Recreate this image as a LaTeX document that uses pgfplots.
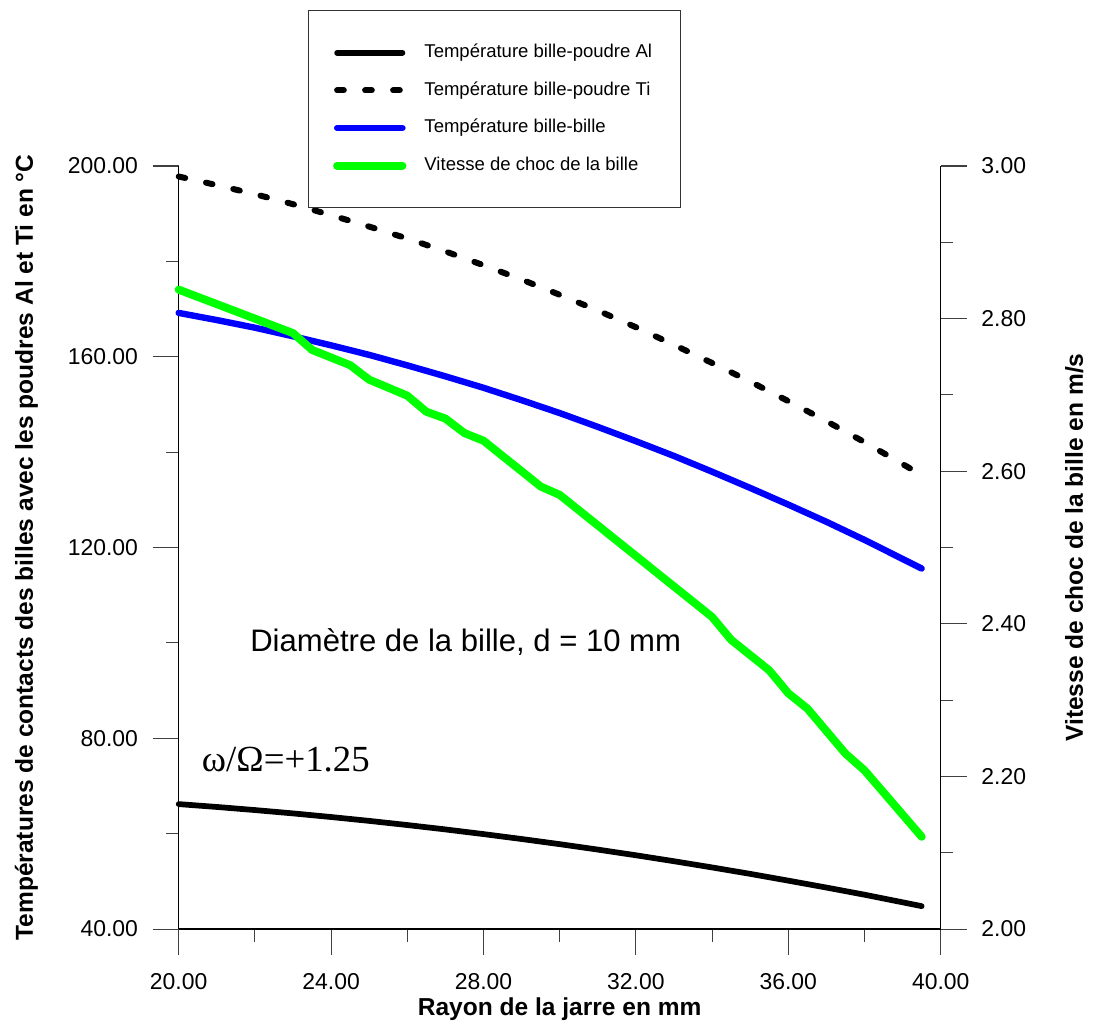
\documentclass[border=0pt]{standalone}
\usepackage{pgfplots}
\pgfplotsset{compat=1.18}
\usepackage{fontspec}
\setmainfont{Liberation Sans}
\newfontfamily\timesfont{Liberation Serif}
\definecolor{pblue}{RGB}{0,0,255}
\definecolor{pgreen}{RGB}{0,255,0}

\pgfplotstableread{
x y
20 66.20
21 65.60
22 64.95
23 64.25
24 63.49
25 62.68
26 61.81
27 60.89
28 59.91
29 58.88
30 57.80
31 56.66
32 55.47
33 54.22
34 52.92
35 51.57
36 50.15
37 48.70
38 47.20
39 45.61
39.5 44.80
}\alpowder

\pgfplotstableread{
x y
20 197.8
21 196.0
22 194.1
23 192.0
24 189.7
25 187.3
26 184.8
27 182.1
28 179.2
29 176.2
30 173.0
31 169.7
32 166.2
33 162.5
34 158.7
35 154.8
36 150.7
37 146.5
38 142.1
39 137.5
39.5 135.2
}\tipowder

\pgfplotstableread{
x y
20 169.2
21 167.7
22 166.1
23 164.3
24 162.4
25 160.4
26 158.2
27 155.9
28 153.5
29 150.9
30 148.2
31 145.3
32 142.3
33 139.2
34 135.9
35 132.5
36 129.0
37 125.4
38 121.6
39 117.6
39.5 115.6
}\billebille

\pgfplotstableread{
x y
20 2.838
23 2.781
23.5 2.759
24.5 2.739
25 2.720
26 2.699
26.5 2.678
27 2.669
27.5 2.650
28 2.640
29.5 2.580
30 2.569
34 2.409
34.5 2.379
35.5 2.339
36 2.309
36.5 2.289
37.5 2.230
38 2.208
39.5 2.121
}\vitesse

\begin{document}
\begin{tikzpicture}
\pgfplotsset{
  common/.style={
    scale only axis, width=571.5pt, height=572.25pt,
    xmin=20, xmax=40, clip=false,
    tick align=outside,
    major tick length=19.5pt, minor tick length=9.5pt,
    axis line style={line width=0.9pt, black},
    tick style={line width=0.8pt, black!75},
    tick label style={font=\fontsize{17.2}{20}\selectfont},
    label style={font=\bfseries\fontsize{18.4}{21}\selectfont},
  }
}
\begin{axis}[common,
  axis x line*=bottom, axis y line*=left,
  ymin=40, ymax=200,
  xtick={20,24,28,32,36,40},
  xticklabels={20.00,24.00,28.00,32.00,36.00,40.00},
  minor xtick={22,26,30,34,38},
  ytick={40,80,120,160,200},
  yticklabels={40.00,80.00,120.00,160.00,200.00},
  minor ytick={60,100,140,180},
  xticklabel style={yshift=-10pt},
  yticklabel style={xshift=-7.5pt},
  xlabel={Rayon de la jarre en mm},
  xlabel style={at={(rel axis cs:0.5,-0.1127)}, anchor=base},
  ylabel={Températures de contacts des billes avec les poudres Al et Ti en °C},
  ylabel style={at={(rel axis cs:-0.1912,0.5)}, anchor=base},
  legend cell align=left,
  legend image code/.code={\draw[#1] (0pt,0pt) -- (49pt,0pt); \path[draw=none,fill=none] (0pt,0pt) rectangle (62.5pt,0pt);},
  legend style={at={(rel axis cs:0.1697,1.2045)}, anchor=north west,
    draw=black!80, line width=0.7pt,
    font=\fontsize{13.9}{16}\selectfont,
    inner xsep=18.5pt, inner ysep=22.5pt, row sep=9.7pt,
    nodes={inner sep=3pt, text height=10pt, text depth=2.5pt}},
]
\addplot[black, line width=4.3pt, line cap=round, line join=round] table[x=x,y=y] {\alpowder};
\addlegendentry{Température bille-poudre Al}
\addplot[black, line width=4.5pt, line cap=round, dash pattern=on 5pt off 16pt] table[x=x,y=y] {\tipowder};
\addlegendentry{Température bille-poudre Ti}
\addplot[pblue, line width=4.8pt, line cap=round, line join=round] table[x=x,y=y] {\billebille};
\addlegendentry{Température bille-bille}
\addlegendimage{pgreen, line width=6pt, line cap=round}
\addlegendentry{Vitesse de choc de la bille}
\node[anchor=base west, inner sep=0pt, font=\fontsize{23.3}{28}\selectfont] at (axis cs:21.872,98.15) {Diamètre de la bille, d = 10 mm};
\node[anchor=base west, inner sep=0pt, font=\timesfont\fontsize{27.6}{32}\selectfont] at (axis cs:20.604,73.0) {ω/Ω=+1.25};
\coordinate (bbl) at (rel axis cs:-0.2345,-0.1206);
\coordinate (btr) at (rel axis cs:1.2025,1.2176);
\end{axis}
\begin{axis}[common,
  axis x line=none, axis y line*=right,
  ymin=2, ymax=3,
  ytick={2,2.2,2.4,2.6,2.8,3},
  yticklabels={2.00,2.20,2.40,2.60,2.80,3.00},
  minor ytick={2.1,2.3,2.5,2.7,2.9},
  yticklabel style={xshift=7.5pt},
  ylabel={Vitesse de choc de la bille en m/s},
  ylabel style={at={(rel axis cs:1.1867,0.5)}, anchor=base},
]
\addplot[pgreen, line width=6pt, line cap=round, line join=round] table[x=x,y=y] {\vitesse};
\end{axis}
\pgfresetboundingbox
\path[use as bounding box] (bbl) rectangle (btr);
\end{tikzpicture}
\end{document}
